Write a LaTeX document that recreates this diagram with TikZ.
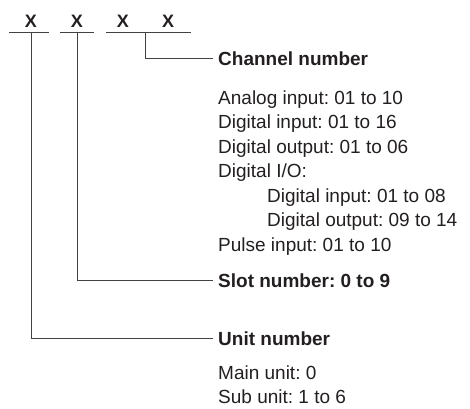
\documentclass[tikz,border=0pt]{standalone}
\usepackage{fontspec}
\setmainfont{Liberation Sans}
\frenchspacing
\begin{document}
\begin{tikzpicture}[x=1pt,y=-1pt,
  txt/.style={anchor=base west,inner sep=0pt,text=ink,font=\fontsize{19}{24}\selectfont},
  head/.style={txt,font=\fontsize{19}{24}\selectfont\bfseries},
  digit/.style={anchor=base,inner sep=0pt,text=ink,font=\fontsize{18}{22}\selectfont\bfseries},
  conn/.style={draw=ink!85,line width=1pt}]
\definecolor{ink}{HTML}{231F20}
\useasboundingbox (0,0) rectangle (470,408);
% digits
\node[digit] (x1) at (31,27) {X};
\node[digit] (x2) at (77,27) {X};
\node[digit] (x3) at (123,27) {X};
\node[digit] (x4) at (168,27) {X};
% underlines
\coordinate (u1a) at (9,32);   \coordinate (u1b) at (49,32);
\coordinate (u2a) at (60,32);  \coordinate (u2b) at (94,32);
\coordinate (u3a) at (106,32); \coordinate (u3b) at (191,32);
\draw[conn] (u1a) -- (u1b);
\draw[conn] (u2a) -- (u2b);
\draw[conn] (u3a) -- (u3b);
\coordinate (t1) at (31,32);
\coordinate (t2) at (77,32);
\coordinate (t3) at (145.5,32);
% texts
\node[head] (chan) at (218,65) {Channel number};
\node[txt] (l1) at (218,104) {Analog input: 01 to 10};
\node[txt] (l2) at (218,128.5) {Digital input: 01 to 16};
\node[txt] (l3) at (218,153) {Digital output: 01 to 06};
\node[txt] (l4) at (218,177.5) {Digital I/O:};
\node[txt] (l5) at (267,202) {Digital input: 01 to 08};
\node[txt] (l6) at (267,226.5) {Digital output: 09 to 14};
\node[txt] (l7) at (218,251) {Pulse input: 01 to 10};
\node[head] (slot) at (218,287) {Slot number: 0 to 9};
\node[head] (unit) at (218,345) {Unit number};
\node[txt] (m1) at (218,379) {Main unit: 0};
\node[txt] (m2) at (218,403.5) {Sub unit: 1 to 6};
% connectors
\draw[conn] (t3) |- ([xshift=-5pt]chan.west);
\draw[conn] (t2) |- ([xshift=-5pt]slot.west);
\draw[conn] (t1) |- ([xshift=-5pt]unit.west);
\end{tikzpicture}
\end{document}
